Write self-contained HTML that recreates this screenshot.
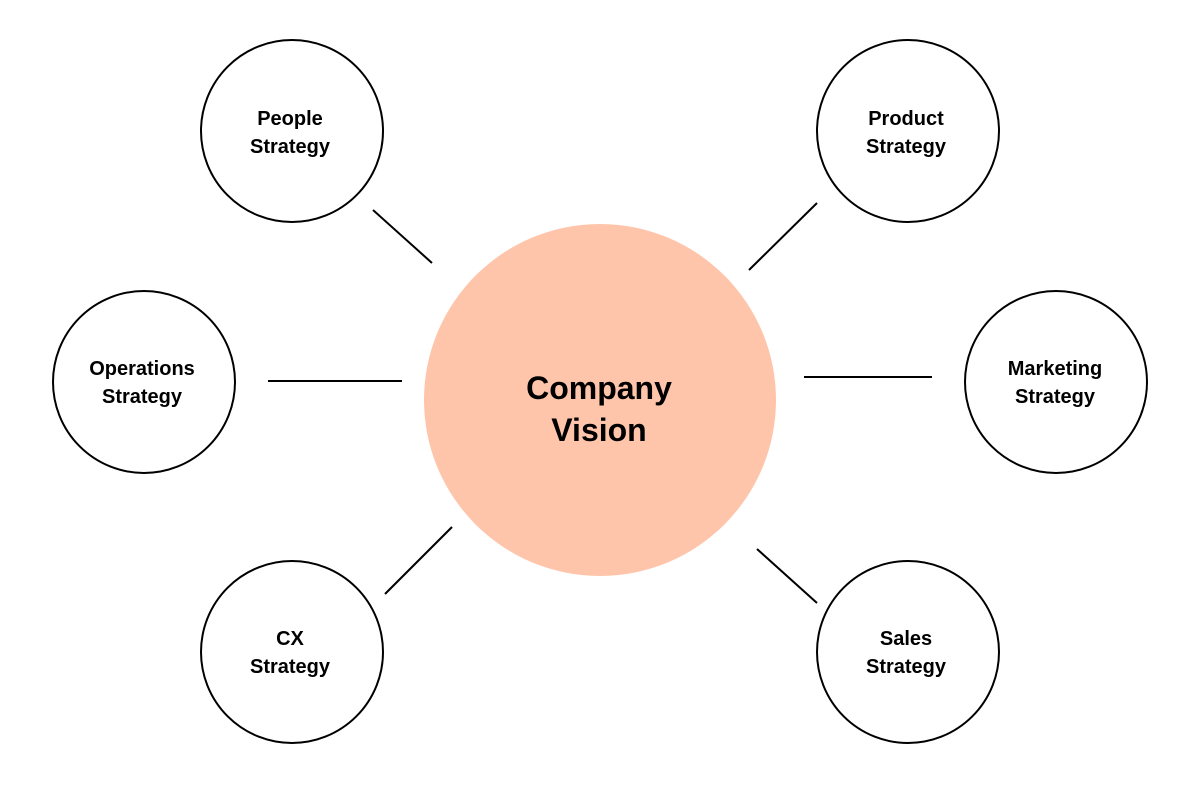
<!DOCTYPE html>
<html><head><meta charset="utf-8"><style>html,body{margin:0;padding:0;background:#fff}svg{display:block}text{font-family:"Liberation Sans",sans-serif;font-weight:bold;text-anchor:middle;fill:#000}</style></head>
<body>
<svg width="1200" height="800" viewBox="0 0 1200 800" xmlns="http://www.w3.org/2000/svg">
<rect width="1200" height="800" fill="#fff"/>
<circle cx="600" cy="400" r="176" fill="#FEC5AA"/>
<g fill="none" stroke="#000" stroke-width="2">
<circle cx="292" cy="131" r="91"/>
<circle cx="908" cy="131" r="91"/>
<circle cx="144" cy="382" r="91"/>
<circle cx="1056" cy="382" r="91"/>
<circle cx="292" cy="652" r="91"/>
<circle cx="908" cy="652" r="91"/>
<line x1="373" y1="210" x2="432" y2="263"/>
<line x1="749" y1="270" x2="817" y2="203"/>
<line x1="268" y1="381" x2="402" y2="381"/>
<line x1="804" y1="377" x2="932" y2="377"/>
<line x1="385" y1="594" x2="452" y2="527"/>
<line x1="757" y1="549" x2="817" y2="603"/>
</g>
<g font-size="20">
<text x="290" y="125">People</text><text x="290" y="153">Strategy</text>
<text x="906" y="125">Product</text><text x="906" y="153">Strategy</text>
<text x="142" y="375">Operations</text><text x="142" y="403">Strategy</text>
<text x="1055" y="375">Marketing</text><text x="1055" y="403">Strategy</text>
<text x="290" y="645">CX</text><text x="290" y="673">Strategy</text>
<text x="906" y="645">Sales</text><text x="906" y="673">Strategy</text>
</g>
<g font-size="32">
<text x="599" y="399">Company</text><text x="599" y="441">Vision</text>
</g>
</svg>
</body></html>
